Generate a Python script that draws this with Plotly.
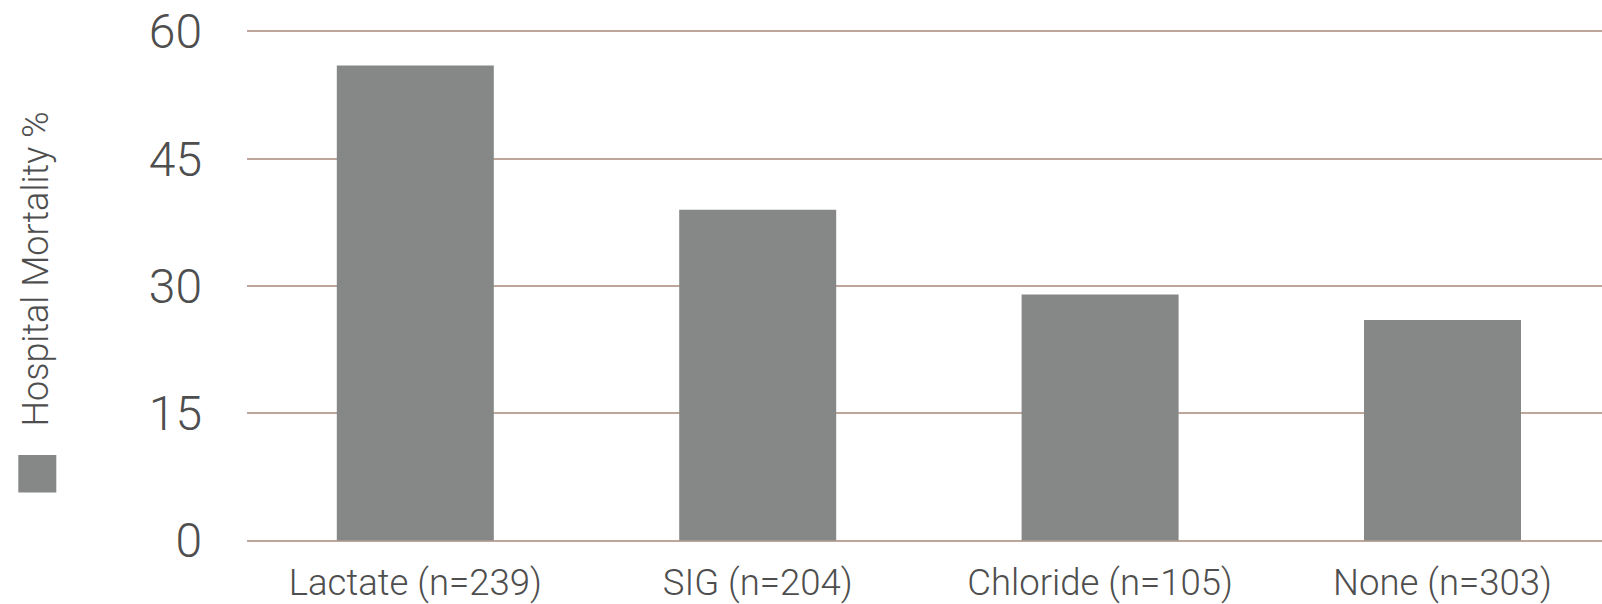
import plotly.graph_objects as go

# Hospital mortality by acidosis type
categories = ["Lactate (n=239)", "SIG (n=204)", "Chloride (n=105)", "None (n=303)"]
mortality = [56, 39, 29, 26]
y_ticks = [0, 15, 30, 45, 60]
series_name = "Hospital Mortality %"

BAR = "rgb(134,136,135)"
GRID = "rgb(191,166,155)"
TEXT = "rgb(78,78,78)"
FONT = "Roboto"

W, H = 1602, 604
plot_left, plot_right = 247, 1602
y0_px, y60_px = 540.7, 31.3
px_per_unit = (y0_px - y60_px) / 60
pad = 1.0
plot_top = y60_px - pad * px_per_unit
plot_bottom = y0_px + pad * px_per_unit

band = 342.4
first_center = 415.3
x_lo = -(first_center - plot_left) / band
x_hi = (plot_right - first_center) / band

fig = go.Figure()
fig.add_trace(go.Bar(
    x=list(range(len(categories))),
    y=mortality,
    name=series_name,
    marker=dict(color=BAR, line=dict(width=0)),
    width=0.4585,
    showlegend=False,
))

fig.update_layout(
    template="none",
    width=W, height=H,
    margin=dict(l=plot_left, r=W - plot_right, t=plot_top, b=H - plot_bottom, pad=0),
    paper_bgcolor="white",
    plot_bgcolor="white",
    font=dict(family=FONT, color=TEXT),
    showlegend=False,
    xaxis=dict(
        range=[x_lo, x_hi],
        tickmode="array",
        tickvals=list(range(len(categories))),
        ticktext=categories,
        tickfont=dict(family=FONT, size=36.5, color=TEXT, weight=300),
        showgrid=False, zeroline=False, showline=False,
        ticks="", ticklabelstandoff=8, automargin=False,
    ),
    yaxis=dict(
        range=[-pad, 60 + pad],
        tickmode="array",
        tickvals=y_ticks,
        ticktext=[str(v) for v in y_ticks],
        tickfont=dict(family=FONT, size=48, color=TEXT, weight=300),
        showgrid=True, gridcolor=GRID, gridwidth=2,
        zeroline=False, showline=False,
        ticks="", ticklabelstandoff=44, automargin=False,
    ),
)

# Legend: swatch with vertically rotated series name
fig.add_shape(
    type="rect", xref="paper", yref="paper",
    x0=(18.3 - plot_left) / (plot_right - plot_left),
    x1=(56.3 - plot_left) / (plot_right - plot_left),
    y0=(plot_bottom - 492.7) / (plot_bottom - plot_top),
    y1=(plot_bottom - 455.0) / (plot_bottom - plot_top),
    fillcolor=BAR, line=dict(width=0),
)
fig.add_annotation(
    xref="paper", yref="paper",
    x=(36.0 - plot_left) / (plot_right - plot_left),
    y=(plot_bottom - 269.5) / (plot_bottom - plot_top),
    text=series_name, textangle=-90, showarrow=False,
    font=dict(family=FONT, size=36, color=TEXT, weight=300),
    xanchor="center", yanchor="middle",
)

fig.write_html("out.html")
